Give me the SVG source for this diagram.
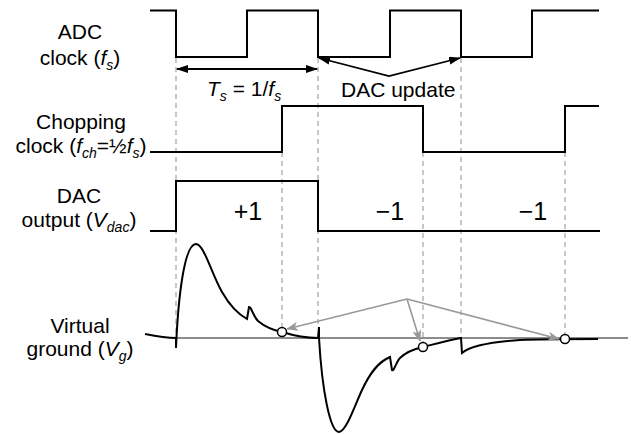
<svg xmlns="http://www.w3.org/2000/svg" width="631" height="434" viewBox="0 0 631 434">
<style>
text{font-family:"Liberation Sans",Arial,sans-serif;font-size:21px;fill:#000}
.lab{text-anchor:middle}
.it{font-style:italic}
.sub{font-style:italic;font-size:14px}
.big{font-size:25px;text-anchor:middle}
.wave{fill:none;stroke:#000;stroke-width:2;stroke-linejoin:miter}
.dash{fill:none;stroke:#aaa;stroke-width:1.3;stroke-dasharray:5,4}
.blk{fill:none;stroke:#000;stroke-width:1.8}
.gry{fill:none;stroke:#999;stroke-width:1.6}
.dot{fill:#fff;stroke:#000;stroke-width:1.5}
</style>
<defs>
<marker id="ab" markerUnits="userSpaceOnUse" markerWidth="12" markerHeight="8" refX="11" refY="4" orient="auto-start-reverse"><path d="M0,0 L12,4 L0,8 z" fill="#000"/></marker>
<marker id="ag" markerUnits="userSpaceOnUse" markerWidth="12" markerHeight="9" refX="11" refY="4.5" orient="auto"><path d="M0,0 L12,4.5 L0,9 L3,4.5 z" fill="#999"/></marker>
</defs>
<rect width="631" height="434" fill="#fff"/>
<g id="guides">
<line class="dash" x1="176" y1="58" x2="176" y2="338"/>
<line class="dash" x1="282" y1="152" x2="282" y2="328"/>
<line class="dash" x1="318" y1="58" x2="318" y2="327"/>
<line class="dash" x1="423" y1="152" x2="423" y2="343"/>
<line class="dash" x1="461" y1="58" x2="461" y2="338"/>
<line class="dash" x1="565" y1="152" x2="565" y2="335"/>
</g>
<g id="adc-clock">
<text class="lab" x="80" y="39">ADC</text>
<text class="lab" x="80" y="65">clock (<tspan class="it">f</tspan><tspan class="sub" dy="5">s</tspan><tspan dy="-5">)</tspan></text>
<path class="wave" d="M150,10.5 H176 V57 H247 V10.5 H318 V57 H390 V10.5 H461 V57 H532 V10.5 H599"/>
</g>
<g id="chopping-clock">
<text class="lab" x="81" y="129">Chopping</text>
<text class="lab" x="81" y="153">clock (<tspan class="it">f</tspan><tspan class="sub" dy="5">ch</tspan><tspan dy="-5">=½</tspan><tspan class="it">f</tspan><tspan class="sub" dy="5">s</tspan><tspan dy="-5">)</tspan></text>
<path class="wave" d="M150,152 H282 V106 H423 V152 H565 V106 H599"/>
</g>
<g id="dac-output">
<text class="lab" x="79" y="203">DAC</text>
<text class="lab" x="79" y="227">output (<tspan class="it">V</tspan><tspan class="sub" dy="5">dac</tspan><tspan dy="-5">)</tspan></text>
<path class="wave" d="M150,231 H176 V181 H318 V231 H600"/>
<text class="big" x="248" y="220">+1</text>
<text class="big" x="390" y="220">−1</text>
<text class="big" x="533" y="220">−1</text>
</g>
<g id="virtual-ground">
<text class="lab" x="80" y="333">Virtual</text>
<text class="lab" x="80" y="356">ground (<tspan class="it">V</tspan><tspan class="sub" dy="5">g</tspan><tspan dy="-5">)</tspan></text>
<line x1="176" y1="338" x2="628" y2="338" stroke="#666" stroke-width="1.3"/>
<path class="wave" d="M145,334 C155,336 165,338 176,338 L176,348 C178,300 184,244 196,244 C204,244 212,275 222,292 C230,306 238,314 247,319 L249,307 C251,306 253,316 258,321 C264,326 272,330 282,332 C295,336 308,338 318,338 L319,327 L319,338 C322,390 330,432 339,432 C346,432 355,405 362,390 C370,373 378,362 390,357 L392,370 C394,372 396,362 400,358 C406,352 414,349 423,347 C435,344 450,340 461,338 L462,353 C470,346 490,342 520,340 C540,339 560,339 598,339"/>
<circle class="dot" cx="282" cy="332" r="4.5"/>
<circle class="dot" cx="423" cy="347" r="4.5"/>
<circle class="dot" cx="565" cy="339" r="4.5"/>
</g>
<g id="connectors">
<line class="blk" x1="177" y1="69" x2="317" y2="69" marker-start="url(#ab)" marker-end="url(#ab)"/>
<text x="207" y="96"><tspan class="it">T</tspan><tspan class="sub" dy="5">s</tspan><tspan dy="-5"> = 1/</tspan><tspan class="it">f</tspan><tspan class="sub" dy="5">s</tspan></text>
<path class="blk" d="M319,58 L389,76 L460,58" marker-start="url(#ab)" marker-end="url(#ab)"/>
<text x="341" y="97">DAC update</text>
<path class="gry" d="M407,299 L287,329" marker-end="url(#ag)"/>
<path class="gry" d="M407,299 L420,341" marker-end="url(#ag)"/>
<path class="gry" d="M407,299 L559,339" marker-end="url(#ag)"/>
</g>
</svg>
